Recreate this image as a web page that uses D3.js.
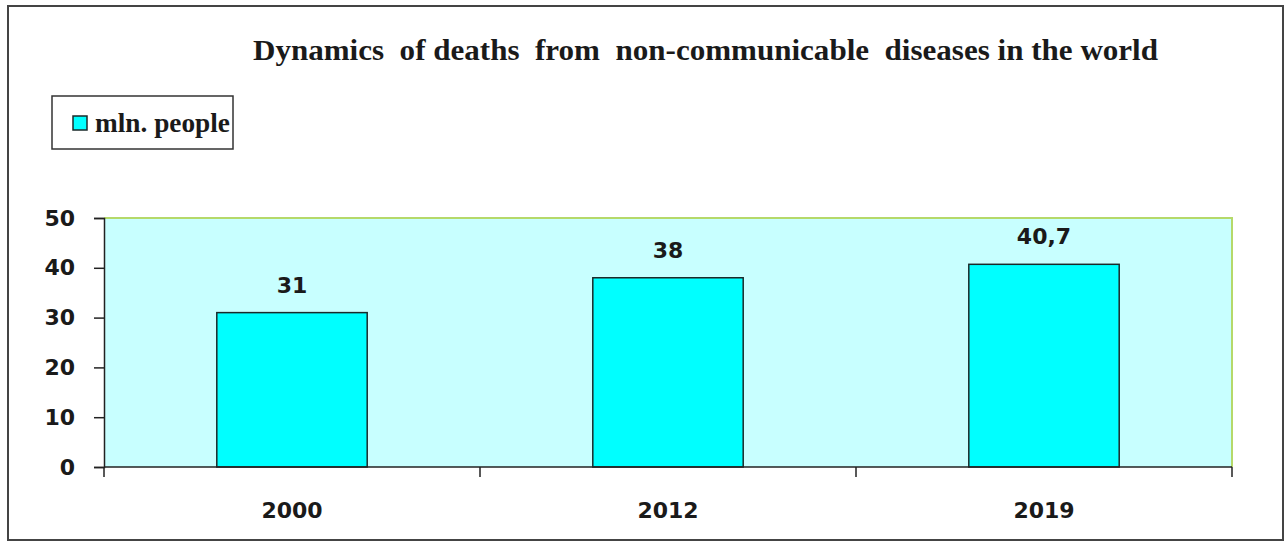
<!DOCTYPE html>
<html>
<head>
<meta charset="utf-8">
<script src="https://cdn.jsdelivr.net/npm/d3@7"></script>
<style>
  html, body { margin: 0; padding: 0; background: #fff; }
  svg { display: block; }
</style>
</head>
<body>
<script>
// Deaths from non-communicable diseases, million people
const years = ["2000", "2012", "2019"];
const deaths = [31, 38, 40.7];
const valueLabels = ["31", "38", "40,7"];
const yTicks = [0, 10, 20, 30, 40, 50];
const seriesName = "mln. people";
const titleText = "Dynamics  of deaths  from  non-communicable  diseases in the world";

const W = 1286, H = 541;
const plot = { left: 104, right: 1232, top: 218, bottom: 467 };
const numFont = "DejaVu Sans, Verdana, sans-serif";
const serifFont = "Liberation Serif, Times New Roman, serif";

const svg = d3.select("body").append("svg")
  .attr("width", W).attr("height", H);

// Outer frame
svg.append("rect")
  .attr("x", 8).attr("y", 6).attr("width", 1275).attr("height", 534)
  .attr("fill", "#fff").attr("stroke", "#444").attr("stroke-width", 2);

const x = d3.scaleBand()
  .domain(years)
  .range([plot.left, plot.right])
  .paddingInner(0.6)
  .paddingOuter(0.3);

const y = d3.scaleLinear()
  .domain([0, 50])
  .range([plot.bottom, plot.top]);

// Plot area background
svg.append("rect")
  .attr("x", plot.left).attr("y", plot.top)
  .attr("width", plot.right - plot.left).attr("height", plot.bottom - plot.top)
  .attr("fill", "#c8ffff");

// Plot area top/right border
svg.append("path")
  .attr("d", `M${plot.left},${plot.top}H${plot.right}V${plot.bottom}`)
  .attr("fill", "none").attr("stroke", "#b5d96a").attr("stroke-width", 2);

// Bars
svg.selectAll("rect.bar")
  .data(deaths)
  .join("rect")
  .attr("class", "bar")
  .attr("x", (d, i) => x(years[i]))
  .attr("y", d => y(d))
  .attr("width", x.bandwidth())
  .attr("height", d => y(0) - y(d))
  .attr("fill", "#00ffff")
  .attr("stroke", "#1a2a2a")
  .attr("stroke-width", 1.5);

// Value labels
svg.selectAll("text.val")
  .data(deaths)
  .join("text")
  .attr("class", "val")
  .attr("x", (d, i) => x(years[i]) + x.bandwidth() / 2)
  .attr("y", d => y(d) - 20)
  .attr("text-anchor", "middle")
  .attr("font-family", numFont)
  .attr("font-weight", "bold")
  .attr("font-size", 22)
  .attr("fill", "#1a1a1a")
  .text((d, i) => valueLabels[i]);

// Y axis
const yAxis = svg.append("g")
  .attr("transform", `translate(${plot.left},0)`)
  .call(d3.axisLeft(y).tickValues(yTicks).tickSize(10).tickPadding(19).tickFormat(d3.format("d")));
yAxis.select(".domain").attr("stroke", "#222").attr("stroke-width", 1.5);
yAxis.selectAll(".tick line").attr("stroke", "#222").attr("stroke-width", 1.5);
yAxis.selectAll(".tick text")
  .attr("font-family", numFont)
  .attr("font-weight", "bold")
  .attr("font-size", 22)
  .attr("fill", "#1a1a1a");

// X axis with ticks between categories
const xAxisG = svg.append("g")
  .attr("transform", `translate(0,${plot.bottom})`);
xAxisG.append("line")
  .attr("x1", plot.left).attr("x2", plot.right)
  .attr("stroke", "#222").attr("stroke-width", 1.5);
const boundaries = [plot.left].concat(years.map(yr => x(yr) + x.bandwidth() / 2 + x.step() / 2));
xAxisG.selectAll("line.tk")
  .data(boundaries)
  .join("line")
  .attr("class", "tk")
  .attr("x1", d => d).attr("x2", d => d)
  .attr("y1", 0).attr("y2", 10)
  .attr("stroke", "#222").attr("stroke-width", 1.5);
xAxisG.selectAll("text")
  .data(years)
  .join("text")
  .attr("x", d => x(d) + x.bandwidth() / 2)
  .attr("y", 51)
  .attr("text-anchor", "middle")
  .attr("font-family", numFont)
  .attr("font-weight", "bold")
  .attr("font-size", 22)
  .attr("fill", "#1a1a1a")
  .text(d => d);

// Title
svg.append("text")
  .attr("x", 253).attr("y", 60)
  .attr("textLength", 905)
  .attr("lengthAdjust", "spacingAndGlyphs")
  .attr("font-family", serifFont)
  .attr("font-weight", "bold")
  .attr("font-size", 30)
  .attr("fill", "#1a1a1a")
  .style("white-space", "pre")
  .text(titleText);

// Legend
const legend = svg.append("g");
legend.append("rect")
  .attr("x", 52).attr("y", 96).attr("width", 181).attr("height", 53)
  .attr("fill", "#fff").attr("stroke", "#333").attr("stroke-width", 1.5);
legend.append("rect")
  .attr("x", 73).attr("y", 116).attr("width", 14).attr("height", 14)
  .attr("fill", "#00ffff").attr("stroke", "#1a2a2a").attr("stroke-width", 1.5);
legend.append("text")
  .attr("x", 95).attr("y", 132)
  .attr("textLength", 135)
  .attr("lengthAdjust", "spacingAndGlyphs")
  .attr("font-family", serifFont)
  .attr("font-weight", "bold")
  .attr("font-size", 28)
  .attr("fill", "#1a1a1a")
  .text(seriesName);
</script>
</body>
</html>
